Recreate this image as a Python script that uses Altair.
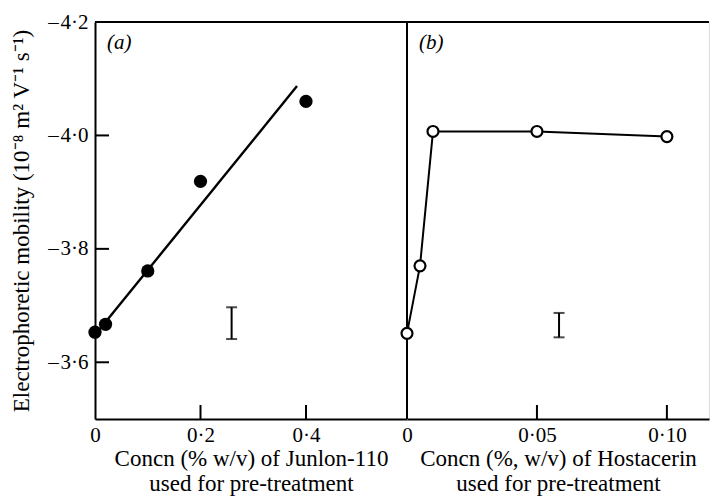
import altair as alt
import pandas as pd

# ---------------- data ----------------
# panel (a): Junlon-110
a_conc = [0.0, 0.02, 0.1, 0.2, 0.4]
a_mob = [-3.653, -3.667, -3.761, -3.919, -4.060]
a_fit_conc = [0.0, 0.383]
a_fit_mob = [-3.648, -4.087]
a_err_conc = [0.259]
a_err_lo = [-3.641]
a_err_hi = [-3.697]

# panel (b): Hostacerin
b_conc = [0.0, 0.005, 0.01, 0.05, 0.10]
b_mob = [-3.651, -3.770, -4.007, -4.007, -3.998]
b_err_conc = [0.0585]
b_err_lo = [-3.644]
b_err_hi = [-3.687]

y_ticks = [-4.2, -4.0, -3.8, -3.6]
a_x_ticks = [0.0, 0.2, 0.4]
b_x_ticks = [0.0, 0.05, 0.10]

a_title = ["Concn (% w/v) of Junlon-110", "used for pre-treatment"]
b_title = ["Concn (%, w/v) of Hostacerin", "used for pre-treatment"]
y_title = "Electrophoretic mobility (10\u207b\u2078 m\u00b2 V\u207b\u00b9 s\u207b\u00b9)"

# ---------------- style ----------------
FONT = "Liberation Serif"
H = 397
WA, WB = 312, 302
A_MAX = 0.5915
B_MAX = 0.1162
TICK = 14
LW = 2
LABEL_FS = 21
TITLE_FS = 23

yscale = alt.Scale(domain=[-4.2, -3.5], reverse=True, nice=False, zero=False)

yaxis_a = alt.Axis(values=y_ticks, tickSize=0, grid=False, domain=True,
                   domainColor="black", domainWidth=LW,
                   labelExpr="replace(replace(format(datum.value, '.1f'), '.', '\u00b7'), '\u2212', '\u2013\u200a')",
                   labelFont=FONT, labelFontSize=LABEL_FS, labelColor="black", labelPadding=7,
                   title=y_title, titleFont=FONT, titleFontSize=TITLE_FS, titleFontWeight="normal",
                   titleColor="black", titlePadding=14)


def xaxis(vals, fmt, title):
    return alt.Axis(values=vals, tickSize=0, grid=False, domain=True,
                    domainColor="black", domainWidth=LW,
                    labelExpr="datum.value == 0 ? '0' : replace(format(datum.value, '" + fmt + "'), '.', '\u00b7')",
                    labelFont=FONT, labelFontSize=LABEL_FS, labelColor="black", labelPadding=5,
                    labelFlush=False,
                    title=title, titleFont=FONT, titleFontSize=TITLE_FS, titleFontWeight="normal",
                    titleColor="black", titlePadding=2, titleLineHeight=25)


def panel(xmax, width, xticks, fmt, title, conc, mob, err_x, err_lo, err_hi,
          filled, label, show_y, fit=None):
    xs = alt.Scale(domain=[0, xmax], nice=False, zero=False)
    xax = xaxis(xticks, fmt, title)
    yax = yaxis_a if show_y else None
    X = alt.X("x:Q", scale=xs, axis=xax)
    Y = alt.Y("y:Q", scale=yscale, axis=yax)

    layers = []
    # top border
    layers.append(alt.Chart(pd.DataFrame({"y": [-4.2]}))
                  .mark_rule(color="black", strokeWidth=LW).encode(y=Y))
    if not show_y:
        # divider line at x = 0
        layers.append(alt.Chart(pd.DataFrame({"x": [0.0]}))
                      .mark_rule(color="black", strokeWidth=LW).encode(x=X))
    else:
        # inward y ticks
        layers.append(alt.Chart(pd.DataFrame({"y": y_ticks[1:]}))
                      .mark_rule(color="black", strokeWidth=LW)
                      .encode(y=Y, x=alt.value(0), x2=alt.value(TICK)))
    # inward x ticks
    layers.append(alt.Chart(pd.DataFrame({"x": [v for v in xticks if v != 0]}))
                  .mark_rule(color="black", strokeWidth=LW)
                  .encode(x=X, y=alt.value(H), y2=alt.value(H - TICK)))
    # error bar
    eb = pd.DataFrame({"x": err_x, "y": err_lo, "y2": err_hi})
    layers.append(alt.Chart(eb).mark_rule(color="black", strokeWidth=LW)
                  .encode(x=X, y=Y, y2="y2:Q"))
    caps = pd.DataFrame({"x": err_x * 2, "y": err_lo + err_hi})
    layers.append(alt.Chart(caps).mark_tick(orient="horizontal", size=11, thickness=LW, color="black")
                  .encode(x=X, y=Y))
    # data line
    df = pd.DataFrame({"x": conc, "y": mob})
    if fit is not None:
        fdf = pd.DataFrame({"x": fit[0], "y": fit[1]})
        layers.append(alt.Chart(fdf).mark_line(color="black", strokeWidth=2.4).encode(x=X, y=Y))
    else:
        layers.append(alt.Chart(df).mark_line(color="black", strokeWidth=2).encode(x=X, y=Y))
    if filled:
        layers.append(alt.Chart(df).mark_point(shape="circle", filled=True, size=175,
                                               color="black", opacity=1).encode(x=X, y=Y))
    else:
        layers.append(alt.Chart(df).mark_point(shape="circle", filled=True, size=120,
                                               fill="white", stroke="black", strokeWidth=2.2,
                                               opacity=1).encode(x=X, y=Y))
    # panel label
    layers.append(alt.Chart(pd.DataFrame({"t": [label]}))
                  .mark_text(font=FONT, fontSize=21, fontStyle="italic", align="left",
                             baseline="middle", color="black")
                  .encode(x=alt.value(12), y=alt.value(21), text="t:N"))
    return alt.layer(*layers).properties(width=width, height=H)


pa = panel(A_MAX, WA, a_x_ticks, ".1f", a_title, a_conc, a_mob,
           a_err_conc, a_err_lo, a_err_hi, True, "(a)", True,
           fit=(a_fit_conc, a_fit_mob))
pb = panel(B_MAX, WB, b_x_ticks, ".2f", b_title, b_conc, b_mob,
           b_err_conc, b_err_lo, b_err_hi, False, "(b)", False)

chart = (alt.hconcat(pa, pb, spacing=0, bounds="flush",
                     padding={"left": 2, "top": 2, "right": 0, "bottom": 0})
         .configure_view(stroke=None)
         .configure(background="white"))

chart.save("out.html", embed_options={"renderer": "svg", "actions": False})
